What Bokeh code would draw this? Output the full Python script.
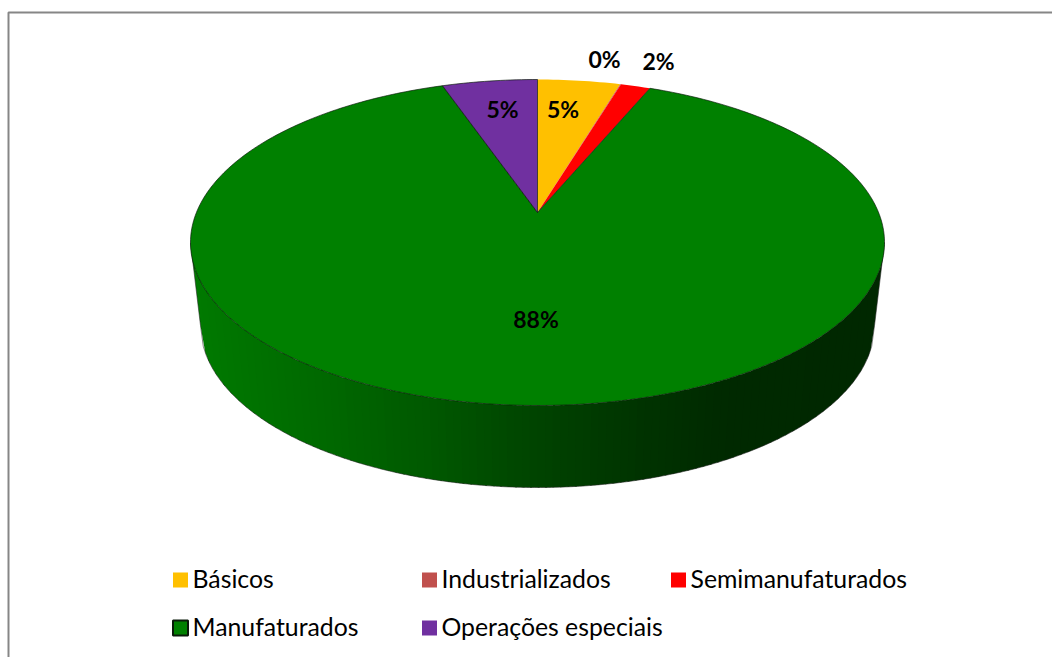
import numpy as np
from bokeh.plotting import figure
from bokeh.models import Range1d
from bokeh.core.properties import value
from bokeh.embed import file_html
from bokeh.resources import INLINE

categories = ["Básicos", "Industrializados", "Semimanufaturados", "Manufaturados", "Operações especiais"]
shares = [4.6, 0.05, 1.65, 88.4, 5.3]
colors = ["#FFC000", "#C0504D", "#FF0000", "#008000", "#7030A0"]

FONT = "Lato"
W, H = 1052, 657
p = figure(width=W, height=H, output_backend="svg", toolbar_location=None,
           x_range=Range1d(0, W), y_range=Range1d(H, 0), min_border=0,
           background_fill_color="white", border_fill_color="white")
p.xaxis.visible = False
p.yaxis.visible = False
p.grid.visible = False
p.outline_line_color = None

# frame
p.line([8, 8, W], [H, 12, 12], line_color="#868686", line_width=2)

# geometry of the tilted disc (screen pixels)
cx, cy, rx, ry = 537.0, 242.0, 347.0, 163.0
cyb, rxb, ryb = 325.0, 337.0, 162.0
k = 0.184  # perspective shift of the disc centre


def rim(theta):
    u, v = np.sin(theta), np.cos(theta)
    d = 1 + k * v
    return cx + rx * u * np.sqrt(1 - k * k) / d, cy - ry * (v + k) / d


apex = (cx, cy - ry * k)

# side wall, shaded in vertical strips
stops_s = [-1.0, -0.6, -0.3, 0.0, 0.3, 0.55, 1.0]
stops_c = [(0, 122, 0), (0, 104, 0), (0, 88, 0), (0, 68, 0), (0, 52, 0), (0, 42, 0), (0, 40, 0)]
n = 90
s = np.linspace(-1, 1, n + 1)
for i in range(n):
    sa, sb = s[i], min(s[i + 1] + 0.006, 1.0)
    q = np.linspace(sa, sb, 3)
    top_x = cx + rx * q
    top_y = cy + ry * np.sqrt(1 - q ** 2)
    bot_x = cx + rxb * q
    bot_y = cyb + ryb * np.sqrt(1 - q ** 2)
    m = (sa + sb) / 2
    col = [int(np.interp(m, stops_s, [c[j] for c in stops_c])) for j in range(3)]
    p.patch(np.r_[top_x, bot_x[::-1]], np.r_[top_y, bot_y[::-1]],
            fill_color="#%02x%02x%02x" % tuple(col), line_color=None)

# wall silhouette
q = np.linspace(-1, 1, 241)
p.line(np.r_[cx - rx, cx + rxb * q, cx + rx], np.r_[cy, cyb + ryb * np.sqrt(1 - q ** 2), cy],
       line_color="#222222", line_width=0.8, line_alpha=0.7)

# slices, clockwise from 12 o'clock
edges = np.r_[0, np.cumsum(shares)] / sum(shares) * 2 * np.pi
for i, name in enumerate(categories):
    t = np.linspace(edges[i], edges[i + 1], max(3, int((edges[i + 1] - edges[i]) * 60)))
    x, y = rim(t)
    outlined = name in ("Manufaturados", "Operações especiais")
    p.patch(np.r_[apex[0], x], np.r_[apex[1], y], fill_color=colors[i],
            line_color="#0a1a0a" if outlined else None, line_width=0.8, line_alpha=0.85)

# data labels
labels = [f"{round(v)}%" for v in shares]
lx = [562.5, 604, 658, 535.5, 502]
ly = [108.5, 58.5, 60.5, 318.5, 108.5]
p.text(lx, ly, text=labels, text_font=value(FONT), text_font_style="bold", text_font_size="23px",
       text_color="#000000", text_align="center", text_baseline="middle")

# legend
sx = [172, 421, 670, 172, 421]
sy = [579.5, 579.5, 579.5, 627.5, 627.5]
for i in range(5):
    p.rect([sx[i] + 8], [sy[i]], width=15, height=15, fill_color=colors[i],
           line_color="#0a1a0a" if i == 3 else None, line_width=2)
p.text([x + 20 for x in sx], [y - 2 for y in sy], text=categories, text_font=value(FONT),
       text_font_size="24.8px", text_color="#000000", text_align="left", text_baseline="middle")

open("out.html", "w").write(file_html(p, INLINE))
